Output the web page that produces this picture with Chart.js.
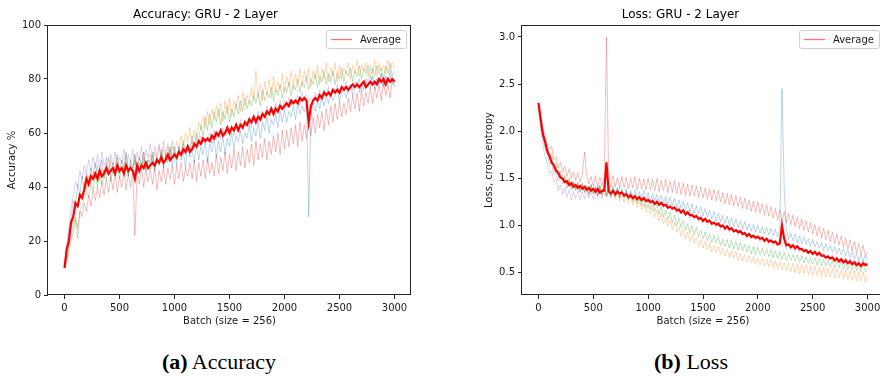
<!DOCTYPE html>
<html><head><meta charset="utf-8">
<script src="https://cdn.jsdelivr.net/npm/chart.js@4.4.1/dist/chart.umd.min.js"></script>
<style>
html,body{margin:0;padding:0;background:#fff;width:880px;height:376px;overflow:hidden;position:relative}
canvas{position:absolute;top:0}
#c1{left:0}
#c2{left:440px}
.cap{position:absolute;top:351px;font-family:"Liberation Serif","Times New Roman",serif;font-size:22px;line-height:22px;color:#000;white-space:nowrap;transform:translateX(-50%)}
</style></head><body>
<canvas id="c1" width="440" height="340"></canvas>
<canvas id="c2" width="450" height="340"></canvas>
<div class="cap" style="left:219px"><b>(a)</b> Accuracy</div>
<div class="cap" style="left:691px"><b>(b)</b> Loss</div>
<script>
// x grid: batch numbers 0..3000, one reading every 20 batches
const batches = [];
for (let b = 0; b <= 3000; b += 20) batches.push(b);

const xTicks = [0, 500, 1000, 1500, 2000, 2500, 3000];
const accTicks = [0, 20, 40, 60, 80, 100];
const lossTicks = [0.5, 1.0, 1.5, 2.0, 2.5, 3.0];
const legendLabel = 'Average';

// ---- Accuracy (%) : each row = 200 batches ----
const accAverage = [
10,17,20,27,29,34,33,37,36,39,
43,41,44,43,45,43,46,44,45,47,
45,46,47,45,48,46,47,45,48,46,
47,46,43,48,46,48,47,49,47,48,
49,48,50,49,51,49,50,52,50,51,
52,51,53,52,54,53,55,53,54,56,
55,57,56,58,57,58,57,59,58,60,
59,61,59,60,62,60,62,61,63,61,
63,62,64,63,65,64,66,64,66,65,
67,66,68,67,69,67,69,68,70,69,
70,71,70,72,71,72,71,73,72,73,
72,64,70,72,73,72,74,73,75,74,
75,74,76,75,76,75,77,76,77,76,
77,78,77,78,77,78,79,77,78,79,
78,79,78,80,79,80,78,80,79,80,
79];
const accRun1 = [ // blue
10,17,23,27,35,33,41,37,44,39,
45,41,47,43,49,44,47,50,43,48,
51,44,49,46,52,45,50,47,53,44,
50,47,52,45,51,48,53,46,50,49,
53,46,51,48,54,47,52,49,55,48,
53,48,55,50,53,47,56,51,54,49,
56,50,55,52,57,49,56,53,58,51,
57,53,59,52,58,55,60,54,59,57,
61,56,60,58,63,57,62,59,64,58,
64,61,66,60,65,63,67,62,68,64,
69,64,68,66,70,65,71,67,70,68,
71,29,66,71,68,72,69,73,70,74,
71,75,72,74,76,72,75,77,73,76,
78,74,77,79,75,78,76,80,77,79,
81,76,80,78,82,77,81,79,83,78,
80];
const accRun2 = [ // orange
10,15,20,25,28,35,32,38,36,42,
39,44,41,46,43,48,42,47,44,49,
44,50,45,48,51,45,50,46,52,45,
49,47,52,46,51,48,53,47,50,52,
48,53,50,55,49,54,51,56,50,55,
52,57,54,59,55,60,57,62,56,61,
58,64,61,66,62,68,63,69,65,70,
66,71,64,72,67,73,66,72,69,74,
68,75,70,74,71,77,72,83,73,78,
72,79,74,80,73,81,75,79,76,82,
75,81,77,83,76,82,78,84,77,83,
79,84,77,83,80,85,78,84,80,86,
79,84,81,86,79,85,80,84,82,86,
80,85,82,87,81,85,83,86,81,85,
82,87,81,86,83,85,82,87,83,86,
84];
const accRun3 = [ // green
10,13,18,22,26,29,21,31,33,36,
38,36,41,39,44,40,45,41,46,43,
47,42,46,44,48,43,47,45,49,44,
48,46,50,45,49,47,51,46,50,48,
52,47,51,49,53,48,52,50,54,51,
55,50,54,52,57,53,56,54,59,55,
60,57,63,59,66,61,67,62,68,64,
69,63,68,65,70,64,69,66,71,67,
72,68,73,69,72,70,74,71,75,70,
76,72,75,73,77,72,76,74,78,73,
77,75,79,74,78,76,80,75,79,77,
81,76,80,78,82,77,81,79,83,78,
82,79,83,78,82,80,84,79,83,81,
84,79,83,81,85,80,84,82,85,80,
84,81,85,82,84,80,85,82,86,81,
83];
const accRun4 = [ // red
10,12,16,20,23,28,25,31,29,34,
31,37,33,39,35,40,36,42,37,43,
38,44,39,45,38,44,40,46,39,45,
40,46,22,45,41,47,40,46,42,47,
41,47,39,46,42,48,41,47,43,48,
41,48,43,49,42,47,44,49,43,50,
42,49,44,50,43,51,45,49,44,52,
45,51,46,53,45,52,47,54,46,53,
48,55,47,54,49,56,48,57,50,56,
51,58,50,57,52,59,53,60,52,61,
54,61,55,62,56,63,55,64,57,63,
58,65,59,66,60,67,62,68,61,69,
63,70,64,71,65,72,66,71,67,73,
68,74,69,75,68,76,70,75,71,77,
71,77,73,78,72,79,74,78,73,80,
77];
const accRun5 = [ // purple
10,18,25,32,37,42,40,46,43,48,
45,50,46,51,47,52,46,53,48,51,
46,52,48,53,47,51,49,54,47,52,
49,54,48,53,50,55,48,54,51,56,
49,55,51,56,50,57,52,55,51,57,
53,50,55,51,56,52,55,53,57,54,
58,55,59,56,58,57,60,56,61,58,
60,58,62,59,61,60,63,59,64,61,
65,61,64,63,66,62,67,64,68,65,
68,66,70,67,69,68,71,67,72,69,
72,69,73,70,72,71,74,70,75,72,
74,71,73,72,75,73,76,72,76,74,
77,73,76,75,78,74,77,76,79,75,
78,76,79,77,80,76,79,78,80,77,
81,78,80,79,82,78,81,79,81,80,
80];

// ---- Loss (cross entropy) : each row = 200 batches ----
const lossAverage = [
2.30,2.13,1.97,1.89,1.79,1.74,1.67,1.64,1.58,1.56,
1.51,1.50,1.46,1.47,1.43,1.45,1.41,1.43,1.40,1.42,
1.39,1.41,1.38,1.40,1.37,1.39,1.36,1.39,1.35,1.37,
1.37,1.67,1.36,1.34,1.37,1.33,1.36,1.34,1.35,1.32,
1.33,1.30,1.32,1.29,1.31,1.28,1.30,1.27,1.29,1.26,
1.27,1.25,1.26,1.23,1.25,1.22,1.24,1.21,1.22,1.19,
1.20,1.18,1.19,1.16,1.17,1.14,1.16,1.12,1.14,1.11,
1.11,1.09,1.10,1.07,1.08,1.05,1.07,1.04,1.05,1.02,
1.03,1.01,1.02,0.99,1.00,0.97,0.99,0.96,0.97,0.94,
0.95,0.93,0.94,0.91,0.92,0.89,0.91,0.88,0.89,0.87,
0.88,0.86,0.87,0.84,0.86,0.83,0.84,0.82,0.83,0.80,
0.81,1.00,0.86,0.79,0.80,0.77,0.79,0.76,0.78,0.75,
0.75,0.73,0.74,0.71,0.73,0.70,0.72,0.69,0.71,0.68,
0.68,0.66,0.67,0.65,0.66,0.63,0.65,0.62,0.64,0.61,
0.63,0.60,0.62,0.59,0.61,0.58,0.60,0.57,0.60,0.58,
0.59];
const lossRun1 = [ // blue
2.30,2.07,1.93,1.82,1.76,1.65,1.67,1.55,1.56,1.47,
1.53,1.44,1.49,1.40,1.46,1.38,1.45,1.37,1.43,1.35,
1.44,1.35,1.41,1.33,1.43,1.34,1.40,1.32,1.42,1.33,
1.40,1.32,1.41,1.31,1.39,1.33,1.40,1.30,1.38,1.31,
1.39,1.29,1.37,1.30,1.38,1.28,1.36,1.29,1.37,1.27,
1.35,1.26,1.34,1.27,1.33,1.25,1.32,1.24,1.31,1.22,
1.30,1.21,1.29,1.19,1.27,1.18,1.26,1.16,1.24,1.15,
1.23,1.13,1.21,1.12,1.20,1.10,1.18,1.09,1.16,1.07,
1.15,1.05,1.13,1.04,1.11,1.02,1.10,1.00,1.08,0.99,
1.07,0.98,1.05,0.96,1.04,0.95,1.02,0.94,1.01,0.93,
1.00,0.92,0.99,0.91,0.98,0.90,0.97,0.89,0.96,0.88,
0.95,2.45,1.40,0.97,0.85,0.92,0.84,0.91,0.82,0.89,
0.81,0.88,0.80,0.86,0.78,0.85,0.77,0.83,0.76,0.82,
0.74,0.81,0.73,0.79,0.72,0.78,0.70,0.76,0.69,0.75,
0.68,0.74,0.66,0.72,0.65,0.70,0.63,0.69,0.62,0.68,
0.64];
const lossRun2 = [ // orange
2.30,2.10,1.95,1.86,1.80,1.70,1.73,1.60,1.63,1.51,
1.56,1.47,1.52,1.42,1.49,1.40,1.46,1.38,1.45,1.36,
1.43,1.35,1.42,1.32,1.41,1.34,1.40,1.31,1.41,1.32,
1.39,1.30,1.38,1.29,1.37,1.28,1.36,1.26,1.35,1.25,
1.33,1.24,1.31,1.22,1.29,1.19,1.27,1.17,1.24,1.14,
1.22,1.12,1.19,1.09,1.16,1.05,1.13,1.02,1.09,0.99,
1.06,0.96,1.03,0.93,0.99,0.89,0.96,0.86,0.93,0.83,
0.90,0.81,0.87,0.78,0.85,0.76,0.83,0.74,0.81,0.72,
0.79,0.71,0.78,0.69,0.76,0.68,0.75,0.66,0.73,0.65,
0.72,0.63,0.70,0.62,0.69,0.61,0.68,0.60,0.67,0.59,
0.66,0.58,0.65,0.57,0.64,0.56,0.64,0.55,0.63,0.54,
0.62,0.53,0.61,0.52,0.61,0.51,0.60,0.50,0.59,0.49,
0.59,0.49,0.58,0.48,0.57,0.47,0.57,0.47,0.56,0.46,
0.56,0.45,0.55,0.45,0.54,0.44,0.54,0.44,0.53,0.43,
0.53,0.43,0.52,0.42,0.52,0.41,0.51,0.41,0.51,0.40,
0.47];
const lossRun3 = [ // green
2.30,2.14,2.00,1.90,1.83,1.73,1.76,1.63,1.66,1.54,
1.58,1.48,1.53,1.44,1.50,1.41,1.47,1.39,1.46,1.37,
1.45,1.36,1.43,1.35,1.44,1.34,1.42,1.33,1.43,1.33,
1.42,1.32,1.41,1.33,1.42,1.31,1.40,1.30,1.39,1.29,
1.37,1.27,1.35,1.25,1.33,1.23,1.31,1.21,1.29,1.19,
1.27,1.17,1.25,1.15,1.22,1.12,1.20,1.09,1.17,1.06,
1.14,1.03,1.11,1.00,1.08,0.98,1.05,0.95,1.02,0.92,
1.00,0.90,0.98,0.88,0.95,0.86,0.93,0.84,0.91,0.82,
0.90,0.81,0.88,0.79,0.86,0.78,0.85,0.76,0.84,0.75,
0.83,0.74,0.82,0.73,0.80,0.72,0.79,0.70,0.78,0.69,
0.77,0.69,0.76,0.68,0.75,0.67,0.74,0.66,0.73,0.65,
0.72,0.64,0.71,0.63,0.70,0.63,0.69,0.62,0.69,0.61,
0.68,0.60,0.67,0.60,0.66,0.59,0.66,0.58,0.65,0.57,
0.64,0.57,0.64,0.56,0.63,0.55,0.62,0.55,0.62,0.54,
0.61,0.53,0.60,0.53,0.60,0.52,0.59,0.51,0.59,0.51,
0.55];
const lossRun4 = [ // red
2.30,2.16,2.03,1.95,1.86,1.80,1.84,1.70,1.73,1.61,
1.67,1.57,1.63,1.52,1.60,1.50,1.57,1.48,1.56,1.46,
1.54,1.78,1.53,1.44,1.52,1.42,1.53,1.41,1.51,1.42,
1.52,3.00,1.50,1.40,1.53,1.41,1.51,1.39,1.52,1.40,
1.51,1.39,1.50,1.40,1.52,1.38,1.50,1.39,1.49,1.38,
1.50,1.38,1.49,1.37,1.50,1.36,1.48,1.37,1.49,1.35,
1.47,1.35,1.48,1.34,1.46,1.33,1.45,1.32,1.44,1.31,
1.43,1.31,1.42,1.30,1.41,1.29,1.40,1.28,1.39,1.27,
1.38,1.26,1.37,1.25,1.35,1.23,1.34,1.22,1.33,1.21,
1.32,1.20,1.30,1.18,1.29,1.17,1.27,1.15,1.26,1.14,
1.25,1.13,1.23,1.11,1.22,1.10,1.20,1.08,1.18,1.06,
1.17,1.05,1.15,1.03,1.13,1.01,1.11,0.99,1.09,0.97,
1.07,0.95,1.05,0.93,1.03,0.91,1.01,0.89,0.99,0.87,
0.97,0.85,0.95,0.83,0.93,0.81,0.91,0.79,0.89,0.77,
0.87,0.75,0.85,0.73,0.83,0.71,0.81,0.69,0.79,0.67,
0.72];
const lossRun5 = [ // purple
2.30,2.02,1.86,1.74,1.66,1.55,1.58,1.46,1.49,1.37,
1.43,1.33,1.40,1.30,1.38,1.27,1.36,1.29,1.37,1.27,
1.36,1.28,1.37,1.29,1.36,1.28,1.37,1.30,1.36,1.29,
1.38,1.30,1.37,1.31,1.38,1.30,1.37,1.29,1.36,1.30,
1.36,1.28,1.34,1.27,1.33,1.26,1.32,1.25,1.31,1.24,
1.30,1.23,1.29,1.21,1.28,1.20,1.26,1.19,1.25,1.17,
1.23,1.16,1.21,1.14,1.20,1.12,1.18,1.10,1.16,1.08,
1.14,1.06,1.12,1.05,1.11,1.03,1.09,1.01,1.07,1.00,
1.05,0.98,1.04,0.96,1.02,0.95,1.00,0.93,0.99,0.92,
0.97,0.90,0.95,0.89,0.94,0.87,0.92,0.86,0.91,0.85,
0.90,0.83,0.88,0.82,0.87,0.81,0.86,0.79,0.84,0.78,
0.83,0.77,0.82,0.75,0.80,0.74,0.79,0.73,0.78,0.72,
0.77,0.71,0.75,0.70,0.74,0.69,0.73,0.67,0.72,0.66,
0.71,0.65,0.70,0.64,0.69,0.63,0.68,0.62,0.67,0.61,
0.66,0.60,0.65,0.59,0.64,0.59,0.63,0.58,0.63,0.57,
0.61];

const runColors = ['rgba(31,119,180,0.3)','rgba(255,127,14,0.3)','rgba(44,160,44,0.3)','rgba(214,39,40,0.3)','rgba(148,103,189,0.3)'];
const avgColor = '#ff0000';
const TXT = '#1a1a1a';
const FAMILY = '"DejaVu Sans", sans-serif';
const FONT = {family: FAMILY, size: 10, lineHeight: 1.2};

function series(label, values, color, width) {
  return {label, data: values.map((v, i) => ({x: batches[i], y: v})), borderColor: color,
          backgroundColor: color, borderWidth: width, pointRadius: 0, fill: false, tension: 0};
}

// axes frame (all four spines) + matplotlib-style legend box in the upper right
const framePlugin = {
  id: 'frame',
  afterDraw(chart) {
    const {ctx, chartArea: a} = chart;
    ctx.save();
    ctx.strokeStyle = '#262626';
    ctx.lineWidth = 1;
    const l = Math.round(a.left) - 0.5, t = Math.round(a.top) + 0.5;
    const r = Math.round(a.right) - 0.5, b = Math.round(a.bottom) - 0.5;
    ctx.strokeRect(l, t, r - l, b - t);

    // legend
    const ds = chart.data.datasets[0];
    ctx.font = '10px ' + FAMILY;
    const tw = ctx.measureText(ds.label).width;
    const textRight = Math.round(a.right) - 10;
    const textX = textRight - tw;
    const lineR = textX - 8, lineL = lineR - 21;
    const boxL = Math.round(lineL - 5) + 0.5, boxR = textRight + 5 + 0.5;
    const boxT = Math.round(a.top) + 5 + 0.5, boxH = 18;
    const cy = boxT + boxH / 2;
    ctx.fillStyle = 'rgba(255,255,255,0.8)';
    ctx.strokeStyle = '#d0d0d0';
    ctx.beginPath();
    ctx.roundRect(boxL, boxT, boxR - boxL, boxH, 2);
    ctx.fill();
    ctx.stroke();
    ctx.strokeStyle = 'rgba(255,70,70,0.75)';
    ctx.lineWidth = 1.3;
    ctx.beginPath();
    ctx.moveTo(lineL, cy);
    ctx.lineTo(lineR, cy);
    ctx.stroke();
    ctx.fillStyle = TXT;
    ctx.textBaseline = 'middle';
    ctx.textAlign = 'left';
    ctx.fillText(ds.label, textX, cy + 0.5);
    ctx.restore();
  }
};

function makeChart(id, runs, avg, opts) {
  const datasets = [series(legendLabel, avg, avgColor, 2.2)];
  runs.forEach((r, i) => datasets.push(series('Run ' + (i + 1), r, runColors[i], 1)));
  return new Chart(document.getElementById(id), {
    type: 'line',
    data: {datasets},
    plugins: [framePlugin],
    options: {
      responsive: false, animation: false, devicePixelRatio: 1,
      layout: {padding: opts.padding},
      plugins: {
        title: {display: true, text: opts.title, color: '#000',
                font: {family: FAMILY, size: 12, weight: 'normal', lineHeight: 1.2},
                padding: {top: 8, bottom: 2.6}},
        legend: {display: false},
        tooltip: {enabled: false}
      },
      scales: {
        x: {
          type: 'linear', min: -150, max: 3150,
          afterBuildTicks: s => { s.ticks = xTicks.map(v => ({value: v})); },
          afterFit: s => { s.height = 45; },
          ticks: {font: FONT, color: TXT, padding: 3, maxRotation: 0, autoSkip: false, callback: v => String(v)},
          grid: {display: true, drawOnChartArea: false, drawTicks: true, tickLength: 4, color: '#262626'},
          border: {display: false},
          title: {display: true, text: 'Batch (size = 256)', font: FONT, color: TXT, padding: {top: 0, bottom: 13}}
        },
        y: {
          type: 'linear', min: opts.ymin, max: opts.ymax,
          afterBuildTicks: s => { s.ticks = opts.yTicks.map(v => ({value: v})); },
          afterFit: s => { s.width = opts.yWidth; },
          ticks: {font: FONT, color: TXT, padding: 3, autoSkip: false, callback: opts.fmt},
          grid: {display: true, drawOnChartArea: false, drawTicks: true, tickLength: 4, color: '#262626'},
          border: {display: false},
          title: {display: true, text: opts.ytitle, font: FONT, color: TXT, padding: {top: 6, bottom: 0}}
        }
      }
    }
  });
}

makeChart('c1', [accRun1, accRun2, accRun3, accRun4, accRun5], accAverage, {
  title: 'Accuracy: GRU - 2 Layer', ytitle: 'Accuracy %', ymin: 0, ymax: 100, yTicks: accTicks,
  fmt: v => String(Math.round(v)), yWidth: 48, padding: {left: 0, right: 29, top: 0, bottom: 0}
});
makeChart('c2', [lossRun1, lossRun2, lossRun3, lossRun4, lossRun5], lossAverage, {
  title: 'Loss: GRU - 2 Layer', ytitle: 'Loss, cross entropy', ymin: 0.263, ymax: 3.127, yTicks: lossTicks,
  fmt: v => Number(v).toFixed(1), yWidth: 45, padding: {left: 37, right: 6, top: 0, bottom: 0}
});
</script>
</body></html>
